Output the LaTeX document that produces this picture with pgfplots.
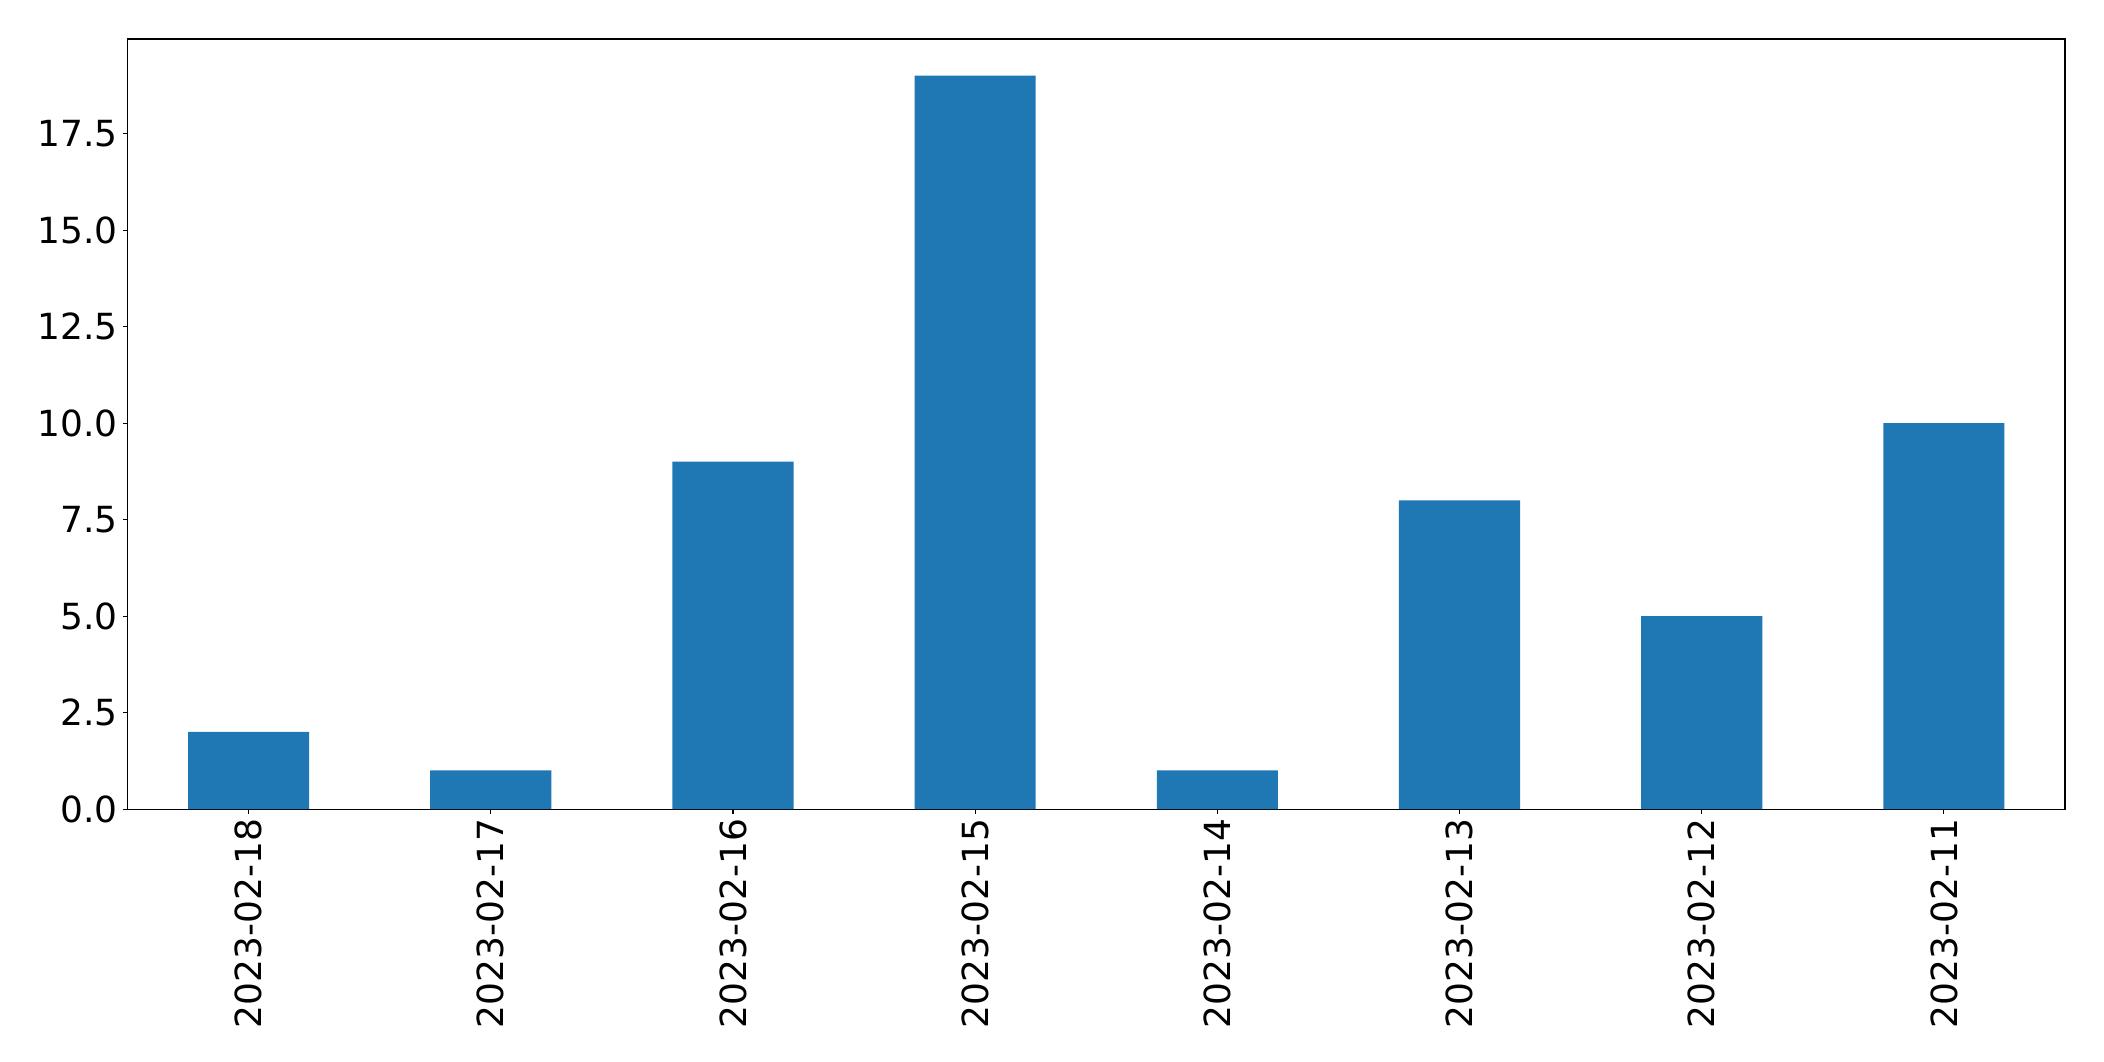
\documentclass[border=0pt]{standalone}
\usepackage{pgfplots}
\pgfplotsset{compat=1.18}
\usepackage{fontspec}
\setmainfont{DejaVu Sans}
\definecolor{mplblue}{HTML}{1F77B4}
\begin{document}
\begin{tikzpicture}
\begin{axis}[
  scale only axis,
  width=1395pt, height=554.4pt,
  xmin=-0.5, xmax=7.5, ymin=0, ymax=19.95,
  xtick={0,...,7},
  xticklabels={2023-02-18,2023-02-17,2023-02-16,2023-02-15,2023-02-14,2023-02-13,2023-02-12,2023-02-11},
  x tick label style={rotate=90, anchor=east},
  ytick={0,2.5,...,17.5},
  /pgf/number format/.cd, fixed, fixed zerofill, precision=1, assume math mode=true, /pgfplots/.cd,
  tick align=outside,
  major tick length=3.5pt,
  tick style={black, line width=0.8pt},
  axis line style={line width=0.8pt},
  ticklabel style={font=\fontsize{25.9}{30}\selectfont},
  every tick label/.append style={inner sep=3.5pt},
  xtick pos=bottom, ytick pos=left,
  axis on top=false,
]
\addplot[ybar, bar width=0.5, fill=mplblue, draw=none] coordinates {
(0,2) (1,1) (2,9) (3,19) (4,1) (5,8) (6,5) (7,10)
};
\end{axis}
\pgfresetboundingbox
\path (current axis.south west)++(-91.8pt,-181.44pt) coordinate (bl);
\path (current axis.north east)++(28.08pt,28.08pt) coordinate (tr);
\path[use as bounding box] (bl) rectangle (tr);
\end{tikzpicture}
\end{document}
